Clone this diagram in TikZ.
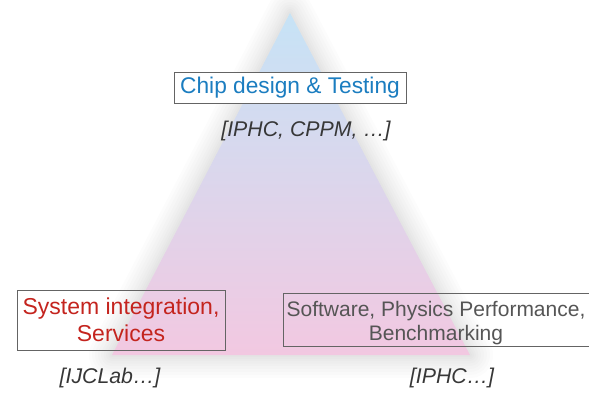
\documentclass[tikz,border=0pt]{standalone}
\usepackage{fontspec}
\setmainfont{Liberation Sans}
\definecolor{chipblue}{RGB}{27,125,192}
\definecolor{sysred}{RGB}{196,36,30}
\definecolor{swgray}{RGB}{85,85,85}
\definecolor{labgray}{RGB}{55,55,55}
\definecolor{boxline}{RGB}{100,100,100}
\definecolor{tritop}{RGB}{198,227,246}
\definecolor{trimid}{RGB}{215,215,236}
\definecolor{tribot}{RGB}{242,200,225}
\tikzset{
  box/.style={draw=boxline, line width=0.9pt, inner sep=0pt, align=center},
  lab/.style={text=labgray, font=\fontsize{21.3}{24}\selectfont\itshape, inner sep=0pt},
  halo/.style={draw=black, line join=round, opacity=0.011}
}
\begin{document}
\begin{tikzpicture}[x=1pt,y=-1pt]
\useasboundingbox (0,0) rectangle (589,393);
\coordinate (A) at (290,13);
\coordinate (B) at (112,355);
\coordinate (C) at (470,355);
% soft halo around the triangle
\foreach \w in {46,40,34,28,22,17,12,8,4}{
  \draw[halo, line width=\w pt] (A) -- (B) -- (C) -- cycle;
}
% triangle
\shade[top color=tritop, middle color=trimid, bottom color=tribot] (A) -- (B) -- (C) -- cycle;
% boxes
\node[box, fill=white, text=chipblue, minimum width=232pt, minimum height=31pt,
      font=\fontsize{22.7}{26}\selectfont] (chip) at (290,87.5) {Chip design \& Testing};
\node[lab] (chiplab) at (306,131) {[IPHC, CPPM, …]};
\node[box, text=sysred, minimum width=208pt, minimum height=60pt,
      font=\fontsize{23}{27}\selectfont] (sys) at (121,320) {System integration,\\Services};
\node[lab] (syslab) at (110,378) {[IJCLab…]};
\node[box, minimum width=330pt, minimum height=53pt] (swbox) at (448,319.5) {};
\node[text=swgray, align=center, inner sep=0pt,
      font=\fontsize{21}{24}\selectfont] (sw) at (436,323) {Software, Physics Performance,\\Benchmarking};
\node[lab] (swlab) at (452,378) {[IPHC…]};
\end{tikzpicture}
\end{document}
